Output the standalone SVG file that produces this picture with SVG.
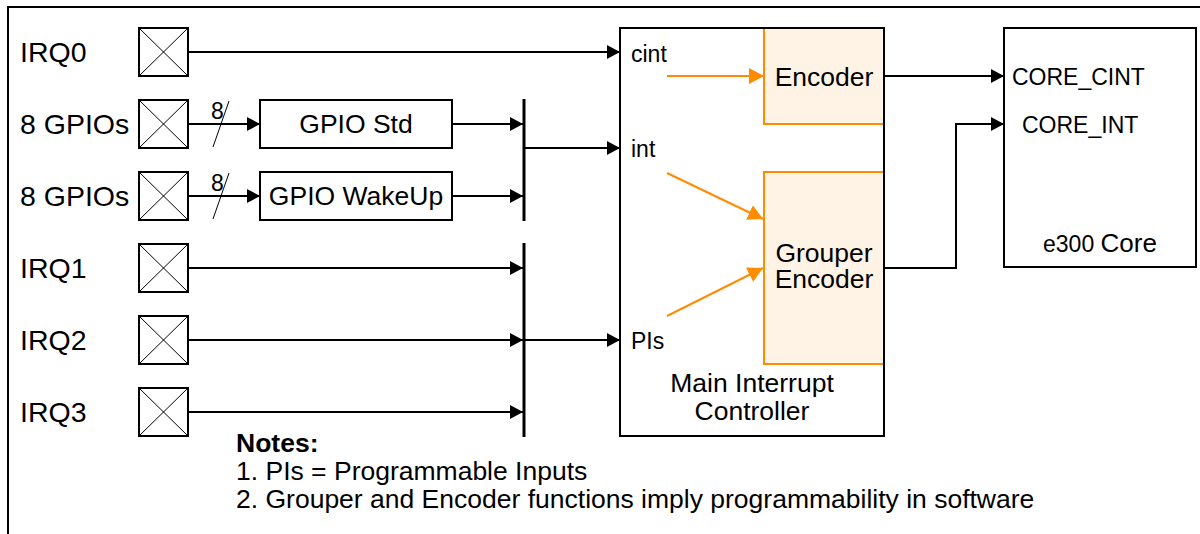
<svg xmlns="http://www.w3.org/2000/svg" width="1200" height="534" viewBox="0 0 1200 534">
<style>
text{font-family:"Liberation Sans",Arial,sans-serif;fill:#000}
.lbl{font-size:28.5px}
.box{font-size:26.5px}
.sm{font-size:23px}
.note{font-size:26.5px}
.blk{fill:none;stroke:#000;stroke-width:2}
.pad{fill:#fff;stroke:#000;stroke-width:2}
.padx{stroke:#000;stroke-width:1}
.org{fill:#FFF3E5;stroke:#FF8C00;stroke-width:2}
.wire{fill:none;stroke:#000;stroke-width:2}
.owire{fill:none;stroke:#FF8C00;stroke-width:2}
.bus{stroke:#000;stroke-width:3}
</style>
<defs>
<marker id="ah" markerUnits="userSpaceOnUse" markerWidth="14" markerHeight="14" refX="13" refY="7" orient="auto"><path d="M0,0 L13,7 L0,14 z" fill="#000"/></marker>
<marker id="oh" markerUnits="userSpaceOnUse" markerWidth="16" markerHeight="16" refX="15" refY="8" orient="auto"><path d="M0,0 L15,8 L0,16 z" fill="#FF8C00"/></marker>
</defs>
<rect width="1200" height="534" fill="#fff"/>
<g id="frame"><path d="M8,534 V7 H1200" class="wire"/></g>

<g id="pads">
<g id="pad-irq0"><text x="20" y="62" class="lbl">IRQ0</text><rect x="139" y="28" width="49" height="48" class="pad"/><path d="M139,28 L188,76 M188,28 L139,76" class="padx"/></g>
<g id="pad-gpio1"><text x="20" y="134" class="lbl">8 GPIOs</text><rect x="139" y="100" width="49" height="48" class="pad"/><path d="M139,100 L188,148 M188,100 L139,148" class="padx"/></g>
<g id="pad-gpio2"><text x="20" y="206" class="lbl">8 GPIOs</text><rect x="139" y="172" width="49" height="48" class="pad"/><path d="M139,172 L188,220 M188,172 L139,220" class="padx"/></g>
<g id="pad-irq1"><text x="20" y="278" class="lbl">IRQ1</text><rect x="139" y="244" width="49" height="48" class="pad"/><path d="M139,244 L188,292 M188,244 L139,292" class="padx"/></g>
<g id="pad-irq2"><text x="20" y="350" class="lbl">IRQ2</text><rect x="139" y="316" width="49" height="48" class="pad"/><path d="M139,316 L188,364 M188,316 L139,364" class="padx"/></g>
<g id="pad-irq3"><text x="20" y="422" class="lbl">IRQ3</text><rect x="139" y="388" width="49" height="48" class="pad"/><path d="M139,388 L188,436 M188,388 L139,436" class="padx"/></g>
</g>

<g id="gpio-std"><rect x="260" y="100" width="192" height="48" class="blk"/><text x="356" y="133" class="box" text-anchor="middle">GPIO Std</text></g>
<g id="gpio-wakeup"><rect x="260" y="172" width="192" height="48" class="blk"/><text x="356" y="205" class="box" text-anchor="middle">GPIO WakeUp</text></g>

<g id="mic">
<rect x="764" y="28" width="120" height="96" class="org"/>
<rect x="764" y="172" width="120" height="192" class="org"/>
<rect x="620" y="28" width="264" height="408" class="blk"/>
<text x="824" y="86" class="box" text-anchor="middle">Encoder</text>
<text x="824" y="262" class="box" text-anchor="middle">Grouper</text>
<text x="824" y="288" class="box" text-anchor="middle">Encoder</text>
<text x="752" y="392" class="box" text-anchor="middle">Main Interrupt</text>
<text x="752" y="420" class="box" text-anchor="middle">Controller</text>
<text x="631" y="62" class="sm">cint</text>
<text x="631" y="157" class="sm">int</text>
<text x="631" y="349" class="sm">PIs</text>
</g>

<g id="core">
<rect x="1004" y="28" width="192" height="239" class="blk"/>
<text x="1012" y="85" class="sm">CORE_CINT</text>
<text x="1022" y="133" class="sm">CORE_INT</text>
<text x="1100" y="252" text-anchor="middle"><tspan font-size="23">e300 </tspan><tspan font-size="26">Core</tspan></text>
</g>

<g id="connectors">
<path d="M188,52 H620" class="wire" marker-end="url(#ah)"/>
<path d="M188,124 H260" class="wire" marker-end="url(#ah)"/>
<path d="M188,196 H260" class="wire" marker-end="url(#ah)"/>
<path d="M213,147 L229,101 M213,219 L229,173" class="padx"/>
<text x="211" y="119" font-size="23">8</text>
<text x="211" y="191" font-size="23">8</text>
<path d="M452,124 H523" class="wire" marker-end="url(#ah)"/>
<path d="M452,196 H523" class="wire" marker-end="url(#ah)"/>
<line x1="524" y1="99" x2="524" y2="221" class="bus"/>
<path d="M524,148 H620" class="wire" marker-end="url(#ah)"/>
<path d="M188,268 H523" class="wire" marker-end="url(#ah)"/>
<path d="M188,340 H523" class="wire" marker-end="url(#ah)"/>
<path d="M188,412 H523" class="wire" marker-end="url(#ah)"/>
<line x1="524" y1="243" x2="524" y2="437" class="bus"/>
<path d="M524,340 H620" class="wire" marker-end="url(#ah)"/>
<path d="M667,76 H764" class="owire" marker-end="url(#oh)"/>
<path d="M667,173 L763,219" class="owire" stroke-width="1.5" marker-end="url(#oh)"/>
<path d="M667,316 L763,268" class="owire" stroke-width="1.5" marker-end="url(#oh)"/>
<path d="M884,76 H1004" class="wire" marker-end="url(#ah)"/>
<path d="M884,268 H956 V124 H1004" class="wire" marker-end="url(#ah)"/>
</g>

<g id="notes">
<text x="236" y="452" class="note" font-weight="bold">Notes:</text>
<text x="236" y="480" class="note">1. PIs = Programmable Inputs</text>
<text x="236" y="508" class="note">2. Grouper and Encoder functions imply programmability in software</text>
</g>
</svg>
